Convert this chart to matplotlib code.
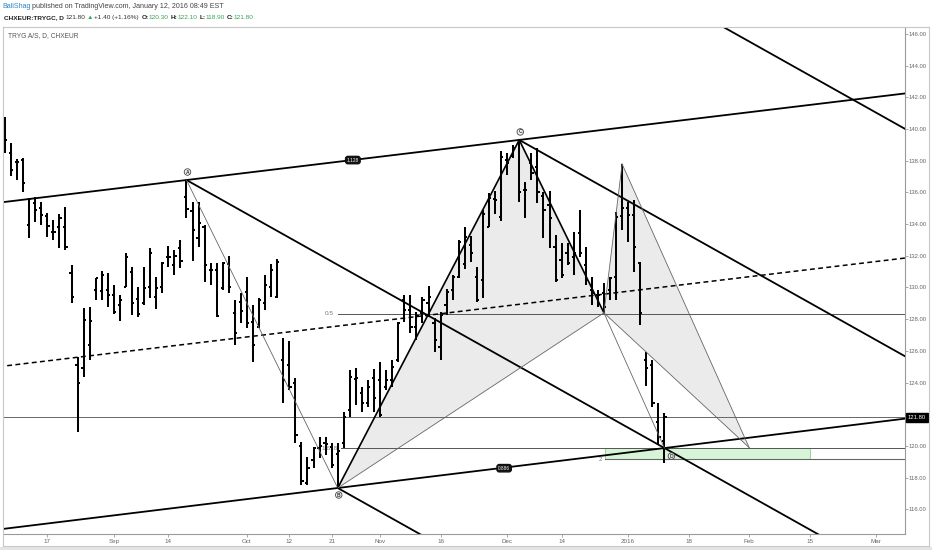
import matplotlib
matplotlib.use('Agg')
import matplotlib.pyplot as plt
from matplotlib.patches import Rectangle, Polygon
from matplotlib.collections import LineCollection
from matplotlib.lines import Line2D
import matplotlib.transforms as mtrans

plt.rcParams['font.family'] = ['Liberation Sans', 'DejaVu Sans']

W, H = 932, 550

# ---------------- data: daily OHLC (bar index 0 .. 109, last bar = Jan 12 2016)
opens = [140.7, 138.5, 137.9, 138.05, 133.94, 135.3, 135.0, 134.5, 133.5, 133.8,
         133.8, 130.9, 125.11, 124.92, 126.37, 129.84, 129.8, 129.84, 129.5, 128.9,
         130.03, 131.0, 129.3, 129.0, 130.03, 129.4, 130.03, 131.9, 131.42, 132.5,
         135.71, 134.8, 133.12, 133.8, 131.1, 131.1, 129.97, 131.5, 128.39, 129.1,
         129.72, 127.82, 127.5, 129.02, 130.0, 129.4, 125.43, 125.11, 123.98, 120.0,
         117.67, 119.12, 119.9, 120.2, 119.94, 119.5, 120.19, 122.27, 124.2, 123.35,
         122.71, 124.29, 124.16, 123.7, 124.16, 125.43, 129.21, 128.6, 127.5, 128.39,
         129.0, 127.76, 126.24, 128.9, 129.84, 130.66, 131.5, 132.68, 130.66, 130.47,
         133.82, 135.6, 134.45, 138.05, 138.3, 139.1, 136.15, 137.85, 137.6, 135.8,
         135.2, 132.56, 131.74, 132.18, 131.9, 133.44, 131.42, 129.84, 129.5, 129.65,
         129.84, 130.66, 134.5, 135.0, 134.57, 131.55, 125.4, 125.1, 121.52, 120.30]
highs = [140.76, 139.12, 138.11, 138.17, 135.65, 135.71, 135.39, 134.7, 134.26, 134.64,
         135.08, 131.42, 125.62, 128.71, 128.77, 130.6, 131.04, 130.92, 130.16, 129.53,
         132.18, 131.3, 130.03, 131.3, 132.49, 130.66, 131.61, 132.62, 132.37, 133.0,
         136.78, 135.39, 135.39, 133.94, 131.55, 131.55, 131.61, 131.99, 129.21, 129.65,
         130.66, 128.9, 129.34, 130.79, 131.48, 131.8, 126.82, 126.63, 124.29, 120.25,
         119.31, 119.94, 120.57, 120.57, 120.19, 120.19, 122.14, 124.8, 124.92, 123.73,
         124.16, 124.86, 125.3, 124.8, 125.43, 127.82, 129.53, 129.53, 128.45, 129.4,
         130.1, 128.08, 128.45, 129.9, 130.79, 133.0, 133.82, 133.25, 131.29, 134.89,
         135.96, 136.09, 138.61, 138.49, 138.99, 139.31, 136.65, 138.49, 138.8, 136.03,
         136.09, 133.32, 132.81, 132.81, 133.5, 134.89, 132.56, 130.66, 129.84, 130.28,
         130.66, 134.76, 137.79, 135.4, 135.52, 131.61, 125.9, 125.43, 122.71, 122.10]
lows = [138.49, 137.04, 136.78, 136.03, 133.12, 134.13, 133.94, 133.19, 133.0, 132.49,
        132.37, 129.02, 120.88, 124.35, 125.43, 129.21, 129.21, 128.77, 128.33, 127.89,
        130.03, 128.27, 128.14, 128.9, 129.34, 128.64, 129.65, 131.3, 130.79, 131.23,
        134.38, 131.68, 132.56, 130.35, 130.16, 128.14, 129.84, 129.65, 126.37, 127.76,
        127.44, 125.3, 127.44, 128.58, 129.4, 129.34, 122.71, 123.53, 120.19, 117.54,
        117.54, 118.61, 119.25, 119.44, 118.61, 117.35, 119.88, 121.83, 122.59, 122.14,
        122.46, 122.14, 121.83, 123.53, 123.73, 125.3, 127.82, 127.13, 126.69, 127.76,
        128.14, 125.93, 125.43, 128.27, 129.21, 130.6, 131.17, 131.61, 129.09, 129.34,
        133.82, 134.64, 134.2, 137.1, 138.17, 135.4, 134.38, 136.78, 135.33, 133.12,
        132.5, 130.35, 130.6, 131.42, 130.79, 131.93, 130.16, 128.9, 128.77, 128.4,
        129.21, 129.21, 133.63, 132.87, 130.98, 127.63, 123.8, 122.46, 120.06, 118.90]
closes = [139.31, 137.41, 137.92, 136.59, 135.58, 134.89, 134.57, 133.9, 133.5, 134.4,
          132.56, 129.4, 123.98, 127.95, 127.89, 130.6, 130.8, 129.5, 128.46, 129.2,
          131.9, 129.02, 128.3, 129.97, 132.18, 129.97, 131.55, 131.9, 132.0, 131.68,
          134.95, 133.6, 134.07, 131.42, 131.1, 128.2, 131.55, 130.03, 127.13, 128.5,
          127.76, 126.37, 129.21, 130.16, 131.1, 131.6, 124.16, 123.73, 120.7, 117.8,
          118.6, 119.87, 120.0, 120.1, 118.8, 119.7, 121.83, 124.35, 124.29, 122.71,
          123.73, 123.0, 121.96, 124.16, 125.0, 127.76, 128.58, 127.5, 128.2, 129.21,
          129.4, 126.69, 128.27, 129.72, 130.66, 132.87, 133.19, 132.18, 129.21, 134.64,
          135.65, 135.52, 138.24, 137.85, 138.8, 136.03, 136.15, 137.23, 136.03, 134.9,
          134.4, 130.47, 130.79, 131.55, 132.18, 132.18, 130.47, 129.65, 129.5, 128.77,
          130.6, 134.45, 135.0, 134.57, 132.56, 128.39, 124.9, 122.7, 120.57, 121.80]

date_tick_pos = [7, 18, 27, 40, 47, 54, 62, 72, 83, 92, 103, 113, 123, 133, 144]
date_tick_labels = ['17', 'Sep', '14', 'Oct', '12', '21', 'Nov', '16', 'Dec', '14',
                    '2016', '18', 'Feb', '15', 'Mar']
price_ticks = [116, 118, 120, 124, 126, 128, 130, 132, 134, 136, 138, 140, 142, 144, 146]
last_price = 121.80

# harmonic pattern points (bar index, price)
pt_A = (30, 136.78)
pt_B = (55, 117.35)
pt_C = (85, 139.31)
pt_X = (99, 128.40)
pt_P = (102, 137.79)
pt_D = (109, 119.87)
pt_E = (123, 119.90)

# channel median anchors, extra parallel anchor
median_anchor = [(0, 125.05), (148.8, 131.86)]
top_parallel_anchor = (148.8, 140.0)

# fib levels: (label, price, start index)
fib_levels = [('0.5', 128.33, 55.0), ('1.618', 119.87, 55.5)]
# target zone: x0, x1, low, high
zone = (99.2, 133.06, 119.16, 119.87)
channel_labels = [('1.128', 57.5, 138.04), ('0.886', 82.5, 118.60)]

# ---------------- figure
fig = plt.figure(figsize=(W / 100, H / 100), dpi=100)
fig.patch.set_facecolor('white')


def px_rect(x0, y0, x1, y1):
    return [x0 / W, 1 - y1 / H, (x1 - x0) / W, (y1 - y0) / H]


ax = fig.add_axes(px_rect(4, 28, 905, 534))
XMIN, XMAX = -0.165, 148.76
ax.set_xlim(XMIN, XMAX)
ax.set_ylim(114.448, 146.372)
ax.set_facecolor('white')

# --- shaded pattern triangles
ax.add_patch(Polygon([pt_B, pt_C, pt_X], closed=True, fc='#ebebeb', ec='none', zorder=1))
ax.add_patch(Polygon([pt_X, pt_P, pt_E], closed=True, fc='#ebebeb', ec='none', zorder=1))

# --- target zone
ax.add_patch(Rectangle((zone[0], zone[2]), zone[1] - zone[0], zone[3] - zone[2],
                       fc='#d6f5d6', ec='#8ccf8c', lw=0.6, zorder=1.5))

# --- horizontal lines
ax.axhline(last_price, color='#666666', lw=0.7, zorder=2)
for lab, lvl, x0 in fib_levels:
    ax.plot([x0, XMAX + 1], [lvl, lvl], color='#555555', lw=0.7, zorder=2)
    ax.text(x0 - 0.6, lvl, lab, ha='right', va='center', fontsize=4.6, color='#777777', zorder=2)
ax.plot([zone[0], XMAX + 1], [zone[2], zone[2]], color='#666666', lw=0.8, zorder=2)
ax.text(zone[0] - 0.5, zone[2], '2', ha='right', va='center', fontsize=4.3, color='#777777')

# --- OHLC bars
segs = []
for i, (o, h, l, c) in enumerate(zip(opens, highs, lows, closes)):
    segs.append([(i, l), (i, h)])
    segs.append([(i - 0.36, o), (i, o)])
    segs.append([(i, c), (i + 0.36, c)])
ax.add_collection(LineCollection(segs, colors='black', linewidths=1.45, zorder=3,
                                 capstyle='butt'))


def line_through(p1, p2, x0, x1):
    s = (p2[1] - p1[1]) / (p2[0] - p1[0])
    return [x0, x1], [p1[1] + s * (x0 - p1[0]), p1[1] + s * (x1 - p1[0])]


# channel lines
xs, ys = line_through(pt_A, pt_C, XMIN - 1, XMAX + 1)
ax.plot(xs, ys, color='black', lw=1.3, zorder=4)
xs, ys = line_through(pt_B, pt_D, XMIN - 1, XMAX + 1)
ax.plot(xs, ys, color='black', lw=1.3, zorder=4)
xs, ys = line_through(median_anchor[0], median_anchor[1], XMIN - 1, XMAX + 1)
ax.plot(xs, ys, color='black', lw=1.1, ls=(0, (3.2, 2.2)), zorder=4)

# parallel down-sloping lines
slope_ad = (pt_D[1] - pt_A[1]) / (pt_D[0] - pt_A[0])
for p in (pt_A, pt_B, pt_C):
    ax.plot([p[0], XMAX + 5], [p[1], p[1] + slope_ad * (XMAX + 5 - p[0])],
            color='black', lw=1.3, zorder=4)
tp = top_parallel_anchor
ax.plot([tp[0] - 40, tp[0] + 2], [tp[1] - slope_ad * 40, tp[1] + slope_ad * 2],
        color='black', lw=1.3, zorder=4)

# pattern legs
ax.plot([pt_A[0], pt_B[0]], [pt_A[1], pt_B[1]], color='#666666', lw=0.6, zorder=4)
ax.plot([pt_B[0], pt_C[0], pt_X[0]], [pt_B[1], pt_C[1], pt_X[1]], color='black', lw=1.2, zorder=4)
for p, q in ((pt_B, pt_X), (pt_X, pt_P), (pt_P, pt_E), (pt_X, pt_E), (pt_X, pt_D)):
    ax.plot([p[0], q[0]], [p[1], q[1]], color='#666666', lw=0.6, zorder=4)

# channel labels
for lab, xi, yi in channel_labels:
    ax.text(xi, yi, lab, ha='center', va='center', fontsize=3.4, color='white', zorder=6,
            bbox=dict(boxstyle='round,pad=0.25,rounding_size=0.5', fc='#111111', ec='#111111'))

# point labels
for lab, p, off in (('A', pt_A, (1, 8)), ('B', pt_B, (1, -7)), ('C', pt_C, (1, 8)),
                    ('D', pt_D, (7, -8))):
    ax.annotate(lab, xy=p, xytext=off, textcoords='offset pixels', ha='center', va='center',
                fontsize=3.6, fontweight='bold', color='#333333', zorder=6,
                bbox=dict(boxstyle='circle,pad=0.15', fc='#f2f2f2', ec='#444444', lw=0.6))

# --- axes styling
for s in ('top', 'left'):
    ax.spines[s].set_visible(False)
for s in ('right', 'bottom'):
    ax.spines[s].set_color('#9a9a9a')
    ax.spines[s].set_linewidth(0.8)
ax.yaxis.tick_right()
ax.set_yticks(price_ticks)
ax.set_yticklabels([f'{v:.2f}' for v in price_ticks])
ax.tick_params(axis='y', length=2.0, width=0.6, color='#9a9a9a', labelsize=4.2,
               labelcolor='#666666', pad=0.8)
ax.set_xticks(date_tick_pos)
ax.set_xticklabels(date_tick_labels)
ax.tick_params(axis='x', length=2, width=0.6, color='#9a9a9a', labelsize=4.5,
               labelcolor='#666666', pad=1.5)

trans = mtrans.blended_transform_factory(ax.transAxes, ax.transData)
ax.text(1 + 3.0 / 901, last_price, f'{last_price:.2f}', transform=trans, ha='left',
        va='center', fontsize=4.2, color='white', zorder=10, clip_on=False,
        bbox=dict(boxstyle='square,pad=0.3', fc='black', ec='black'))

# --- pane frame
def fline(x0, y0, x1, y1, color='#c8c8c8', lw=0.8):
    fig.add_artist(Line2D([x0 / W, x1 / W], [1 - y0 / H, 1 - y1 / H], color=color, lw=lw,
                          transform=fig.transFigure))


fline(3, 27, 929, 27)
fline(3, 27, 3, 546)
fline(929, 27, 929, 546)
fline(3, 546, 929, 546)
fig.add_artist(Rectangle((0, 0), 1, 3.5 / H, transform=fig.transFigure, fc='#e4e4e4',
                         ec='none'))

# --- header texts
renderer = fig.canvas.get_renderer()


def chain(pieces, x0, y, size):
    x = x0
    for txt, color, weight, gap in pieces:
        t = fig.text(x / W, 1 - y / H, txt, color=color, fontsize=size, fontweight=weight,
                     ha='left', va='center')
        x += t.get_window_extent(renderer).width + gap


green = '#3aa552'
chain([('BaliShag', '#2f86c8', 'normal', 1.5),
       ('published on TradingView.com, January 12, 2016 08:49 EST', '#444444', 'normal', 0)],
      2.5, 6.5, 5.15)
chain([('CHXEUR:TRYGC, D', '#222222', 'bold', 2.2),
       ('121.80', '#333333', 'normal', 1.3),
       ('\u25b2', green, 'normal', 1.3),
       ('+1.40 (+1.16%)', '#333333', 'normal', 2.2),
       ('O:', '#222222', 'bold', 0), ('120.30', green, 'normal', 2.2),
       ('H:', '#222222', 'bold', 0), ('122.10', green, 'normal', 2.2),
       ('L:', '#222222', 'bold', 0), ('118.90', green, 'normal', 2.2),
       ('C:', '#222222', 'bold', 0), ('121.80', green, 'normal', 0)],
      3.5, 17.5, 4.65)
fig.text(8 / W, 1 - 36 / H, 'TRYG A/S, D, CHXEUR', fontsize=4.8, color='#555555',
         ha='left', va='center')

fig.savefig('out.png', dpi=100, facecolor='white')
